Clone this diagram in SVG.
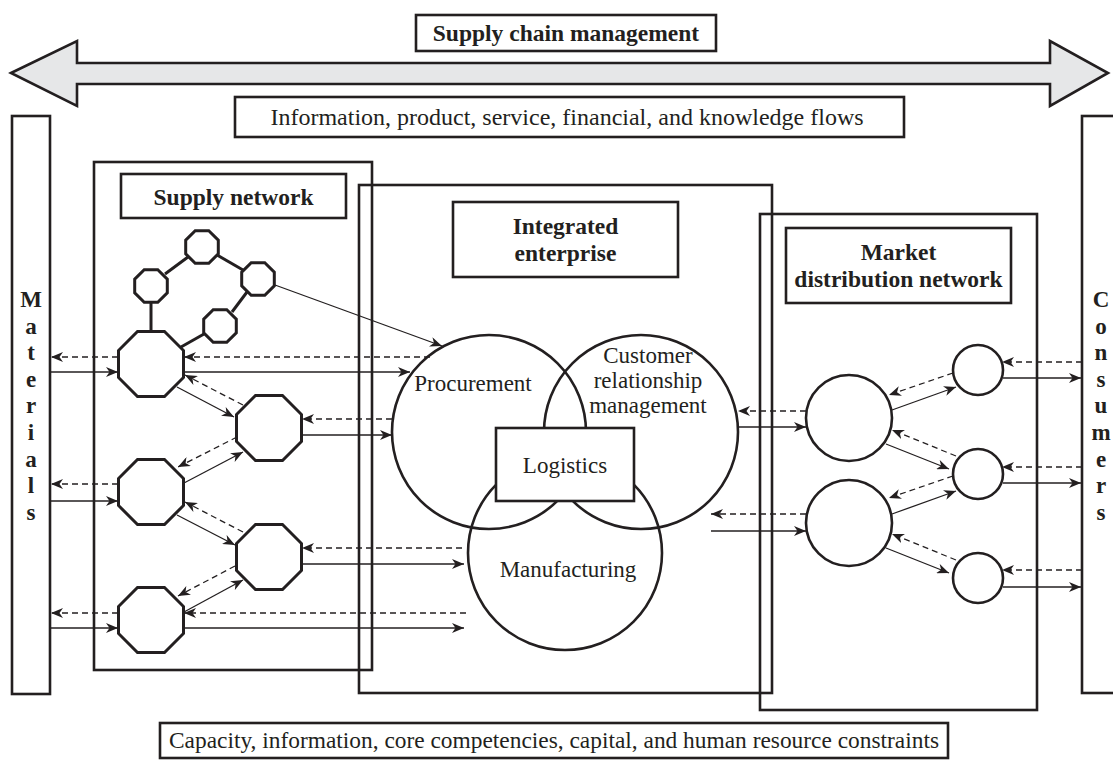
<svg xmlns="http://www.w3.org/2000/svg" xmlns:xlink="http://www.w3.org/1999/xlink" width="1113" height="760" viewBox="0 0 1113 760">
<style>
.box{fill:none;stroke:#231f20;stroke-width:2.6}
.lbl{fill:#fff;stroke:#231f20;stroke-width:2.6}
.oct{fill:#fff;stroke:#231f20;stroke-width:3}
.circ{fill:none;stroke:#231f20;stroke-width:2.6}
.circw{fill:#fff;stroke:#231f20;stroke-width:2.6}
.link{stroke:#231f20;stroke-width:3;fill:none}
.sol{stroke:#231f20;stroke-width:1.3;fill:none;marker-end:url(#ah)}
.dsh{stroke:#231f20;stroke-width:1.3;fill:none;stroke-dasharray:6 4;marker-end:url(#ah)}
.t{font-family:"Liberation Serif","Times New Roman",serif;font-size:23px;fill:#231f20;text-anchor:middle}
.b{font-family:"Liberation Serif","Times New Roman",serif;font-size:23.5px;font-weight:bold;fill:#231f20;text-anchor:middle}
.v{font-family:"Liberation Serif","Times New Roman",serif;font-size:23px;font-weight:bold;fill:#231f20;text-anchor:middle}
</style>
<defs>
<marker id="ah" viewBox="0 0 12 10" refX="12" refY="5" markerWidth="12" markerHeight="10" markerUnits="userSpaceOnUse" orient="auto">
<path d="M0,0 L12,5 L0,10 L3.5,5 z" fill="#231f20"/>
</marker>
<polygon id="octB" points="13.5,-32.5 32.5,-13.5 32.5,13.5 13.5,32.5 -13.5,32.5 -32.5,13.5 -32.5,-13.5 -13.5,-32.5"/>
<polygon id="octS" points="6.8,-16.3 16.3,-6.8 16.3,6.8 6.8,16.3 -6.8,16.3 -16.3,6.8 -16.3,-6.8 -6.8,-16.3"/>
</defs>
<rect width="1113" height="760" fill="#fff"/>

<g id="scm-arrow">
<polygon points="11,73 77,41 77,63 1050,63 1050,41 1108,73 1050,106 1050,84 77,84 77,106" fill="#e6e7e8" stroke="#231f20" stroke-width="2.6" stroke-linejoin="miter"/>
</g>
<g id="scm-label">
<rect class="lbl" x="416" y="15" width="300" height="36"/>
<text class="b" x="566" y="41">Supply chain management</text>
</g>
<g id="flows-label">
<rect class="lbl" x="235" y="97" width="669" height="40"/>
<text class="t" x="567" y="125" style="font-size:24px">Information, product, service, financial, and knowledge flows</text>
</g>

<g id="materials">
<rect class="box" x="12" y="116" width="38" height="578"/>
<text class="v" x="31"><tspan x="31" y="307">M</tspan><tspan x="31" y="333.6">a</tspan><tspan x="31" y="360.2">t</tspan><tspan x="31" y="386.8">e</tspan><tspan x="31" y="413.4">r</tspan><tspan x="31" y="440">i</tspan><tspan x="31" y="466.6">a</tspan><tspan x="31" y="493.2">l</tspan><tspan x="31" y="519.8">s</tspan></text>
</g>
<g id="consumers">
<rect class="box" x="1082" y="116" width="40" height="577"/>
<text class="v" x="1101"><tspan x="1101" y="307">C</tspan><tspan x="1101" y="333.6">o</tspan><tspan x="1101" y="360.2">n</tspan><tspan x="1101" y="386.8">s</tspan><tspan x="1101" y="413.4">u</tspan><tspan x="1101" y="440">m</tspan><tspan x="1101" y="466.6">e</tspan><tspan x="1101" y="493.2">r</tspan><tspan x="1101" y="519.8">s</tspan></text>
</g>

<g id="supply-network">
<rect class="box" x="94" y="162" width="278" height="508"/>
<rect class="lbl" x="121" y="174" width="225" height="44"/>
<text class="b" x="233.5" y="205">Supply network</text>
</g>
<g id="integrated-enterprise">
<rect class="box" x="359" y="185" width="413" height="508"/>
<rect class="lbl" x="453" y="202" width="225" height="75"/>
<text class="b" x="565.5" y="234">Integrated</text>
<text class="b" x="565.5" y="261">enterprise</text>
</g>
<g id="market-distribution-network">
<rect class="box" x="760" y="214" width="277" height="496"/>
<rect class="lbl" x="786" y="228" width="225" height="75"/>
<text class="b" x="898.5" y="260">Market</text>
<text class="b" x="898.5" y="287">distribution network</text>
</g>

<g id="octagon-links">
<line class="link" x1="151" y1="302" x2="151" y2="332"/>
<line class="link" x1="165" y1="274" x2="188" y2="257"/>
<line class="link" x1="217" y1="255" x2="243" y2="270"/>
<line class="link" x1="247" y1="292" x2="232" y2="312"/>
<line class="link" x1="204" y1="334" x2="181" y2="347"/>
</g>

<g id="s-top"><use xlink:href="#octS" class="oct" x="202" y="247"/></g>
<g id="s-left"><use xlink:href="#octS" class="oct" x="151" y="286"/></g>
<g id="s-right"><use xlink:href="#octS" class="oct" x="258" y="279"/></g>
<g id="s-low"><use xlink:href="#octS" class="oct" x="220" y="326"/></g>
<g id="o1"><use xlink:href="#octB" class="oct" x="151" y="364"/></g>
<g id="o2"><use xlink:href="#octB" class="oct" x="269" y="428"/></g>
<g id="o3"><use xlink:href="#octB" class="oct" x="151" y="492"/></g>
<g id="o4"><use xlink:href="#octB" class="oct" x="269" y="557"/></g>
<g id="o5"><use xlink:href="#octB" class="oct" x="151" y="620"/></g>

<g id="procurement">
<circle class="circ" cx="489" cy="432" r="97"/>
<text class="t" x="473" y="391">Procurement</text>
</g>
<g id="crm">
<circle class="circ" cx="641" cy="432" r="97"/>
<text class="t" x="648" y="363">Customer</text>
<text class="t" x="648" y="388">relationship</text>
<text class="t" x="648" y="413">management</text>
</g>
<g id="manufacturing">
<circle class="circ" cx="565" cy="553" r="97"/>
<text class="t" x="568" y="577">Manufacturing</text>
</g>
<g id="logistics">
<rect class="lbl" x="496" y="428" width="138" height="73"/>
<text class="t" x="565" y="473">Logistics</text>
</g>

<g id="dist-a"><circle class="circw" cx="849" cy="418" r="43"/></g>
<g id="dist-b"><circle class="circw" cx="849" cy="523" r="43"/></g>
<g id="ret-1"><circle class="circw" cx="978" cy="370" r="25"/></g>
<g id="ret-2"><circle class="circw" cx="978" cy="474" r="25"/></g>
<g id="ret-3"><circle class="circw" cx="978" cy="578" r="25"/></g>

<g id="connectors">
<line class="sol" x1="275" y1="285" x2="442" y2="346"/>
<line class="dsh" x1="118" y1="357" x2="51" y2="357"/>
<line class="sol" x1="51" y1="372" x2="118" y2="372"/>
<line class="dsh" x1="118" y1="484" x2="51" y2="484"/>
<line class="sol" x1="51" y1="501" x2="118" y2="501"/>
<line class="dsh" x1="118" y1="613" x2="51" y2="613"/>
<line class="sol" x1="51" y1="628" x2="118" y2="628"/>
<line class="dsh" x1="430" y1="357" x2="184" y2="357"/>
<line class="sol" x1="184" y1="372" x2="410" y2="372"/>
<line class="dsh" x1="392" y1="419" x2="302" y2="419"/>
<line class="sol" x1="302" y1="435" x2="392" y2="435"/>
<line class="dsh" x1="462" y1="548" x2="302" y2="548"/>
<line class="sol" x1="302" y1="564" x2="464" y2="564"/>
<line class="dsh" x1="466" y1="613" x2="184" y2="613"/>
<line class="sol" x1="184" y1="628" x2="464" y2="628"/>
<line class="sol" x1="177" y1="387" x2="234" y2="417"/>
<line class="dsh" x1="243" y1="405" x2="185" y2="375"/>
<line class="dsh" x1="237" y1="437" x2="178" y2="467"/>
<line class="sol" x1="184" y1="483" x2="243" y2="452"/>
<line class="sol" x1="177" y1="515" x2="235" y2="545"/>
<line class="dsh" x1="243" y1="532" x2="185" y2="502"/>
<line class="dsh" x1="235" y1="566" x2="178" y2="596"/>
<line class="sol" x1="184" y1="612" x2="243" y2="580"/>
<line class="dsh" x1="806" y1="411" x2="738" y2="411"/>
<line class="sol" x1="738" y1="427" x2="806" y2="427"/>
<line class="dsh" x1="806" y1="514" x2="711" y2="514"/>
<line class="sol" x1="711" y1="531" x2="806" y2="531"/>
<line class="sol" x1="892" y1="410" x2="956" y2="387"/>
<line class="dsh" x1="953" y1="373" x2="889" y2="395"/>
<line class="sol" x1="886" y1="444" x2="949" y2="469"/>
<line class="dsh" x1="956" y1="456" x2="892" y2="430"/>
<line class="sol" x1="892" y1="514" x2="956" y2="491"/>
<line class="dsh" x1="953" y1="476" x2="889" y2="498"/>
<line class="sol" x1="886" y1="548" x2="949" y2="573"/>
<line class="dsh" x1="956" y1="560" x2="892" y2="534"/>
<line class="dsh" x1="1082" y1="362" x2="1002" y2="362"/>
<line class="sol" x1="1003" y1="378" x2="1081" y2="378"/>
<line class="dsh" x1="1082" y1="467" x2="1002" y2="467"/>
<line class="sol" x1="1003" y1="483" x2="1081" y2="483"/>
<line class="dsh" x1="1082" y1="570" x2="1002" y2="570"/>
<line class="sol" x1="1003" y1="587" x2="1081" y2="587"/>
</g>

<g id="constraints-label">
<rect class="lbl" x="160" y="723" width="788" height="35"/>
<text class="t" x="554" y="748" style="font-size:23.4px">Capacity, information, core competencies, capital, and human resource constraints</text>
</g>
</svg>
